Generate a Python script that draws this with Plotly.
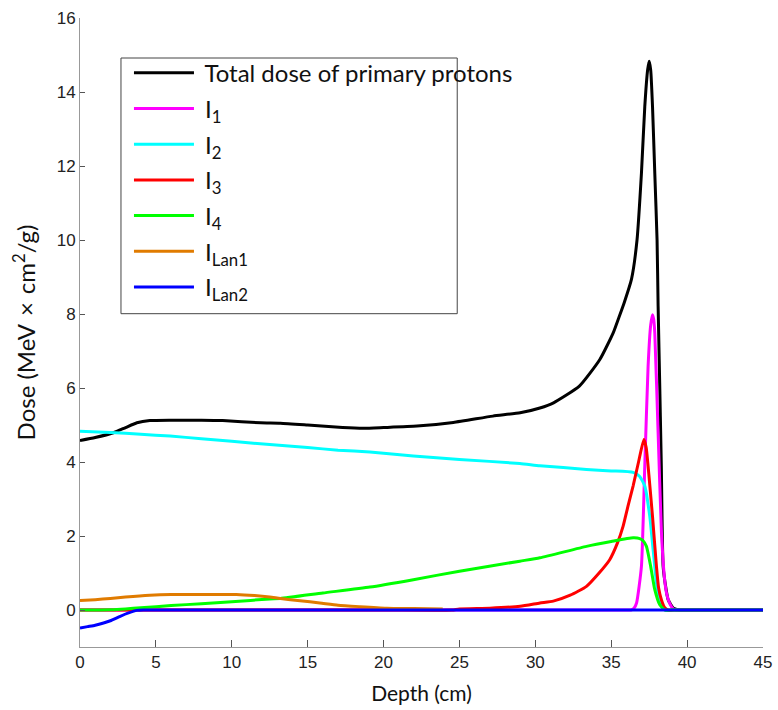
import plotly.graph_objects as go

# ---- data ----
total_d = [0, 1, 2.2, 3, 3.75, 4.6, 6, 8, 9.4, 11.9, 13.2, 15, 17.3, 18.7, 20, 22.2, 24.6, 27.2, 29,
           30.3, 31.2, 32.9, 34.25, 35.13, 35.5, 35.85, 36.34, 36.7, 36.99, 37.21, 37.4, 37.5, 37.6,
           37.72, 37.87, 38.02, 38.09, 38.2, 38.3, 38.42, 38.6, 38.75, 39.1, 39.5, 40.5, 42, 45]
total_v = [4.58, 4.66, 4.79, 4.93, 5.06, 5.12, 5.13, 5.13, 5.12, 5.06, 5.05, 5.0, 4.93, 4.91, 4.93, 4.97,
           5.07, 5.24, 5.33, 5.46, 5.6, 6.05, 6.77, 7.49, 7.9, 8.3, 8.95, 10.0, 11.8, 13.6, 14.6, 14.83,
           14.6, 13.61, 11.81, 10.01, 8.21, 6.0, 3.9, 1.18, 0.6, 0.28, 0.05, 0, 0, 0, 0]

i1_d = [0, 20, 35, 36.0, 36.3, 36.5, 36.67, 36.99, 37.21, 37.43, 37.6, 37.72, 37.8, 37.87, 38.09,
        38.31, 38.5, 38.64, 38.85, 39.07, 39.3, 39.8, 41, 45]
i1_v = [0, 0, 0, 0, 0, 0.05, 0.19, 1.18, 3.89, 6.59, 7.7, 7.98, 7.85, 7.49, 4.79,
        2.09, 0.9, 0.46, 0.18, 0.04, 0, 0, 0, 0]

i2_d = [0, 2, 4, 5.94, 8, 10, 12.5, 15, 17, 19.1, 21.96, 25, 28.98, 30.3, 33.37, 35, 36.44, 36.88,
        37.21, 37.54, 37.76, 37.98, 38.15, 38.31, 38.6, 39.2, 40.5, 42, 45]
i2_v = [4.83, 4.8, 4.75, 4.70, 4.63, 4.56, 4.47, 4.39, 4.32, 4.27, 4.16, 4.07, 3.96, 3.90, 3.8, 3.76,
        3.72, 3.61, 3.35, 2.53, 1.63, 0.73, 0.35, 0.13, 0, 0, 0, 0, 0]

i3_d = [0, 10, 20, 24.5, 25, 27, 29, 30.3, 31.18, 32.3, 33.37, 34.2, 34.9, 35.4, 35.78, 36.1, 36.44,
        36.8, 37.15, 37.3, 37.43, 37.72, 37.98, 38.12, 38.31, 38.5, 38.75, 39.3, 40.5, 42, 45]
i3_v = [0, 0, 0, 0, 0.03, 0.05, 0.1, 0.19, 0.24, 0.4, 0.64, 1.0, 1.36, 1.8, 2.26, 2.8, 3.35,
        4.0, 4.61, 4.4, 3.89, 2.53, 1.18, 0.6, 0.27, 0.08, 0, 0, 0, 0, 0]

i4_d = [0, 2, 3, 4, 6, 8, 10, 12.5, 13.2, 16, 19.1, 21.96, 25, 28.98, 30.3, 33.37, 35, 36.44, 36.88,
        37.1, 37.32, 37.6, 37.87, 38.2, 38.53, 39.1, 40.5, 42, 45]
i4_v = [0, 0.01, 0.03, 0.06, 0.12, 0.17, 0.22, 0.30, 0.31, 0.46, 0.62, 0.82, 1.05, 1.32, 1.41, 1.72,
        1.85, 1.95, 1.93, 1.87, 1.72, 1.18, 0.55, 0.14, 0, 0, 0, 0, 0]

lan1_d = [0, 1, 2, 3, 4.6, 6, 8, 10.3, 11.5, 12.5, 13.2, 14.5, 15.8, 17, 18.45, 20.2, 22, 23.9]
lan1_v = [0.26, 0.28, 0.31, 0.35, 0.40, 0.42, 0.42, 0.42, 0.39, 0.35, 0.31, 0.25, 0.19, 0.13, 0.09,
          0.05, 0.04, 0.03]

lan2_d = [0, 0.5, 1, 1.55, 2, 2.65, 3.2, 3.75, 4.2, 5, 6, 10, 20, 30, 40, 45]
lan2_v = [-0.49, -0.45, -0.41, -0.35, -0.29, -0.17, -0.08, -0.01, 0, 0, 0, 0, 0, 0, 0, 0]

series = [
    ("Total dose of primary protons", total_d, total_v, "#000000"),
    ("I<sub>1</sub>", i1_d, i1_v, "#ff00ff"),
    ("I<sub>2</sub>", i2_d, i2_v, "#00ffff"),
    ("I<sub>3</sub>", i3_d, i3_v, "#ff0000"),
    ("I<sub>4</sub>", i4_d, i4_v, "#00ff00"),
    ("I<sub>Lan1</sub>", lan1_d, lan1_v, "#e07b00"),
    ("I<sub>Lan2</sub>", lan2_d, lan2_v, "#0000ff"),
]

x_ticks = [0, 5, 10, 15, 20, 25, 30, 35, 40, 45]
y_ticks = [0, 2, 4, 6, 8, 10, 12, 14, 16]

fig = go.Figure()
for i, (name, xd, yd, col) in enumerate(series):
    fig.add_trace(go.Scatter(x=xd, y=yd, mode="lines", name="\u00a0" + name,
                             legendgroup=f"g{i}",
                             line=dict(color=col, width=3, shape="spline", smoothing=0.5)))

title_font = dict(family="Lato, Open Sans, sans-serif", size=21, color="#111")
ytitle_font = dict(family="Lato, Open Sans, sans-serif", size=24, color="#111")
tick_font = dict(family="Liberation Sans, Arial, sans-serif", size=17, color="#222")

fig.update_layout(
    width=778, height=710,
    margin=dict(l=80, r=14.5, t=18, b=63, autoexpand=False),
    paper_bgcolor="white", plot_bgcolor="white",
    showlegend=True,
    legend=dict(x=0.0717, y=0.948, xanchor="left", yanchor="top",
                bgcolor="rgba(0,0,0,0)", borderwidth=0,
                font=dict(family="Lato, Open Sans, sans-serif", size=24, color="#111"),
                itemwidth=60, tracegroupgap=1.5, traceorder="grouped"),
    xaxis=dict(range=[0, 45], tickvals=x_ticks, ticks="inside", ticklen=7, tickcolor="#555",
               showline=True, linecolor="#999", linewidth=1, showgrid=False, zeroline=False,
               automargin=False,
               tickfont=tick_font, title=dict(text="Depth (cm)", font=title_font, standoff=14)),
    yaxis=dict(range=[-1, 16], tickvals=y_ticks, ticks="inside", ticklen=5, tickcolor="#555",
               showline=True, linecolor="#999", linewidth=1, showgrid=False, zeroline=False,
               automargin=False,
               tickfont=tick_font,
               title=dict(text="Dose (MeV\u2004\u00d7\u2004cm<sup>2</sup>/g)", font=ytitle_font,
                          standoff=14)),
)

# legend frame
fig.add_shape(type="rect", xref="paper", yref="paper", x0=0.060, x1=0.5523, y0=0.5299, y1=0.9364,
              line=dict(color="#444", width=1), fillcolor="rgba(0,0,0,0)", layer="below")

fig.write_html("out.html")
